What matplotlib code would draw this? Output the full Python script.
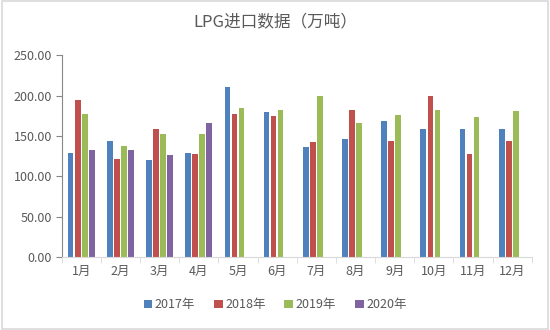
import numpy as np
import matplotlib
matplotlib.use("Agg")
import matplotlib.pyplot as plt
from matplotlib.patches import Rectangle

plt.rcParams['font.family'] = ['Noto Sans CJK SC', 'DejaVu Sans']

# data (万吨)
months = ['1月', '2月', '3月', '4月', '5月', '6月', '7月', '8月', '9月', '10月', '11月', '12月']
years = ['2017年', '2018年', '2019年', '2020年']
v2017 = [129, 144, 120, 129, 211, 179, 136, 146, 169, 158, 158, 158]
v2018 = [195, 121, 158, 127, 177, 175, 142, 182, 144, 200, 127, 144]
v2019 = [177, 137, 152, 152, 184, 182, 199, 166, 176, 182, 173, 181]
v2020 = [132, 132, 126, 166, np.nan, np.nan, np.nan, np.nan, np.nan, np.nan, np.nan, np.nan]
series = [v2017, v2018, v2019, v2020]
colors = ['#4F81BD', '#C0504D', '#9BBB59', '#8064A2']

txt = '#595959'

fig = plt.figure(figsize=(5.5, 3.3), dpi=100)
# light frame around the whole chart
fig.patches.append(Rectangle((0.003, 0.003), 0.994, 0.994, transform=fig.transFigure,
                             fill=False, edgecolor='#d9d9d9', linewidth=1.2))
ax = fig.add_axes([0.112, 0.221, 0.855, 0.612])

x = np.arange(len(months))
slot = 0.18
w = 0.145
for i, (vals, c, lab) in enumerate(zip(series, colors, years)):
    ax.bar(x + (i - 1.5) * slot, vals, width=w, color=c, label=lab)

ax.set_xlim(-0.5, len(months) - 0.5)
ax.set_ylim(0, 250)
ax.set_yticks(np.arange(0, 251, 50))
ax.set_yticklabels(['%.2f' % v for v in np.arange(0, 251, 50)], color=txt, fontsize=9)

ax.set_xticks(x)
ax.set_xticklabels(months, color=txt, fontsize=9)
ax.tick_params(axis='x', which='major', length=0, pad=6)
ax.set_xticks(np.arange(-0.5, len(months), 1), minor=True)
ax.tick_params(axis='x', which='minor', length=4, color='#d9d9d9')
ax.tick_params(axis='y', length=4, color='#868686', pad=3)

for s in ['top', 'right']:
    ax.spines[s].set_visible(False)
ax.spines['left'].set_color('#868686')
ax.spines['bottom'].set_color('#d9d9d9')

fig.text(0.5, 0.935, 'LPG进口数据（万吨）', ha='center', va='center', fontsize=12, color=txt)

fig.legend(loc='center', bbox_to_anchor=(0.5, 0.076), ncol=4, frameon=False,
           fontsize=9, handlelength=0.7, handleheight=0.7, handletextpad=0.2,
           columnspacing=1.5, labelcolor=txt)

fig.savefig('out.png', dpi=100)
